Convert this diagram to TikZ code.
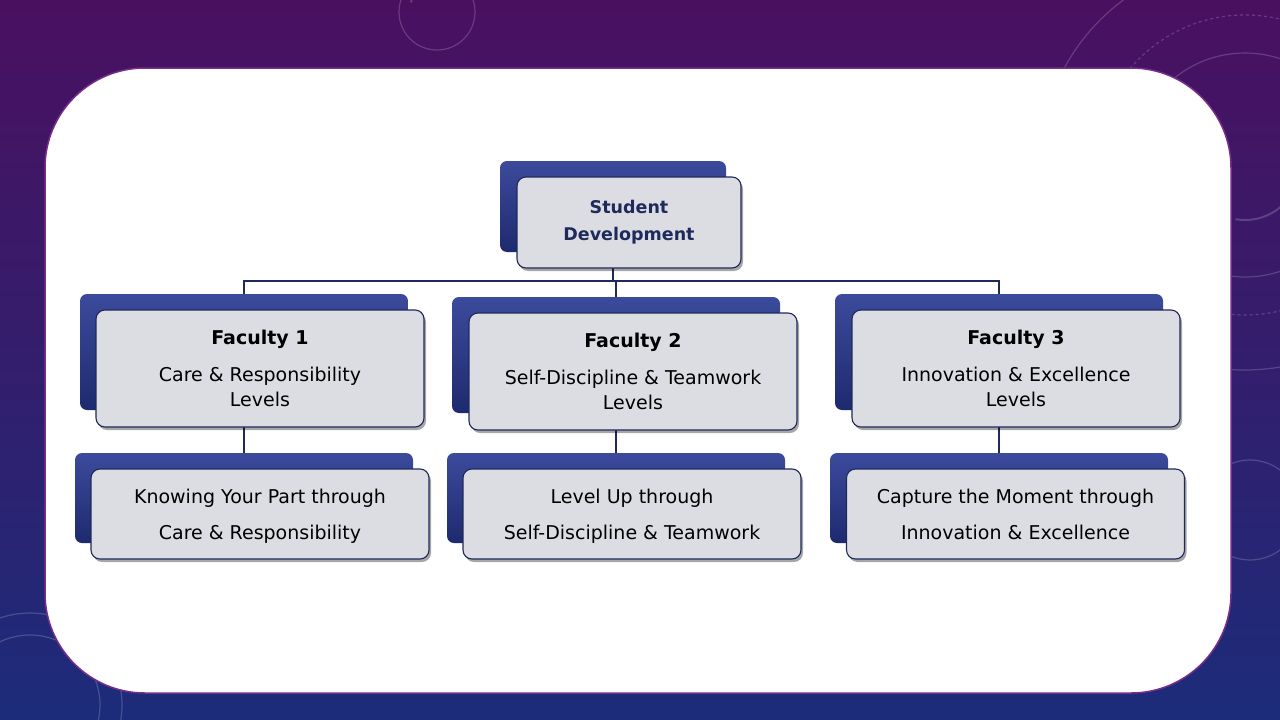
\documentclass[tikz,border=0pt]{standalone}
\usepackage{fontspec}
\setmainfont{DejaVu Sans}
\usetikzlibrary{shadows}
\definecolor{navy}{HTML}{1F2A5C}
\definecolor{backtop}{HTML}{3C4A9C}
\definecolor{backbot}{HTML}{1E2A6E}
\definecolor{frontgray}{HTML}{DCDDE2}
\definecolor{bgtop}{HTML}{4A1060}
\definecolor{bgbot}{HTML}{1C2C7A}
\definecolor{panelrim}{HTML}{7A2C8C}
\begin{document}
\begin{tikzpicture}[x=1pt,y=-1pt,
  backbox/.style={rounded corners=7pt, top color=backtop, bottom color=backbot, draw=none, inner sep=0pt},
  frontbox/.style={rounded corners=9pt, fill=frontgray, draw=navy, line width=1.1pt, inner sep=0pt,
    align=center, text=black, font=\fontsize{19}{25}\selectfont,
    drop shadow={shadow xshift=2pt, shadow yshift=-3pt, opacity=0.35, fill=black}},
  topbox/.style={frontbox, text=navy, font=\fontsize{17.5}{27}\selectfont\bfseries},
  leafbox/.style={frontbox, minimum width=338, minimum height=90, text depth=-1.5pt},
  link/.style={draw=navy, line width=1.3pt},
  ring/.style={draw=white, opacity=0.18, line width=1.2pt}]
\useasboundingbox (0,0) rectangle (1280,720);

% backdrop
\shade[top color=bgtop, bottom color=bgbot] (0,0) rectangle (1280,720);
\begin{scope}
  \clip (0,0) rectangle (1280,720);
  \draw[ring] (437,12) circle (38);
  \draw[ring, line width=2pt] (437,12) ++(200:28) arc (200:330:28);
  \draw[ring] (1245,165) circle (112);
  \draw[ring, dashed] (1245,165) circle (150);
  \draw[ring] (1245,165) circle (205);
  \draw[ring, line width=2pt] (1245,165) ++(100:55) arc (100:-30:55);
  \draw[ring] (1250,510) circle (50);
  \draw[ring] (30,705) circle (70);
  \draw[ring] (30,705) circle (92);
\end{scope}

% white panel
\draw[fill=white, draw=panelrim, line width=1.5pt, rounded corners=100pt] (45,68) rectangle (1231,693);

% back plates
\node[backbox, minimum width=226, minimum height=91] (topb) at (613,206.5) {};
\node[backbox, minimum width=328, minimum height=116] (f1b) at (244,352) {};
\node[backbox, minimum width=328, minimum height=116] (f2b) at (616,355) {};
\node[backbox, minimum width=328, minimum height=116] (f3b) at (999,352) {};
\node[backbox, minimum width=338, minimum height=90] (b1b) at (244,498) {};
\node[backbox, minimum width=338, minimum height=90] (b2b) at (616,498) {};
\node[backbox, minimum width=338, minimum height=90] (b3b) at (999,498) {};

% connectors
\coordinate (bus) at (613,281);
\path[link] (topb.south) -- (bus);
\path[link] (bus) -| (f1b.north);
\path[link] (bus) -| (f2b.north);
\path[link] (bus) -| (f3b.north);
\path[link] (f1b.south) -- (b1b.north);
\path[link] (f2b.south) -- (b2b.north);
\path[link] (f3b.south) -- (b3b.north);

% front cards
\node[topbox, minimum width=224, minimum height=91] (top) at (629,222.5) {Student\\Development};
\node[frontbox, minimum width=328, minimum height=117] (f1) at (260,368.5)
  {\textbf{Faculty 1}\\[12pt]Care \& Responsibility\\Levels};
\node[frontbox, minimum width=328, minimum height=117] (f2) at (633,371.5)
  {\textbf{Faculty 2}\\[12pt]Self-Discipline \& Teamwork\\Levels};
\node[frontbox, minimum width=328, minimum height=117] (f3) at (1016,368.5)
  {\textbf{Faculty 3}\\[12pt]Innovation \& Excellence\\Levels};
\node[leafbox] (b1) at (260,514)
  {Knowing Your Part through\\[11pt]Care \& Responsibility};
\node[leafbox] (b2) at (632,514)
  {Level Up through\\[11pt]Self-Discipline \& Teamwork};
\node[leafbox] (b3) at (1015.5,514)
  {Capture the Moment through\\[11pt]Innovation \& Excellence};
\end{tikzpicture}
\end{document}
